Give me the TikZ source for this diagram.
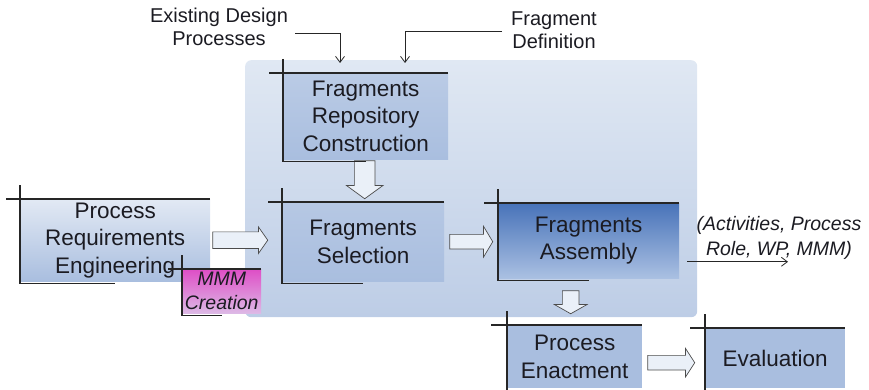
\documentclass[tikz,border=0pt]{standalone}
\usepackage{fontspec}
\setmainfont{Liberation Sans}
\usetikzlibrary{shapes.arrows, arrows.meta, positioning}

\definecolor{panelTop}{HTML}{E0E8F3}
\definecolor{panelBot}{HTML}{BDCDE6}
\definecolor{boxBlue}{HTML}{A9BEDF}
\definecolor{boxLight}{HTML}{E2E9F4}
\definecolor{asmTop}{HTML}{4873B9}
\definecolor{asmBot}{HTML}{AAC0E2}
\definecolor{mmmTop}{HTML}{DE4EC6}
\definecolor{mmmBot}{HTML}{DDB9E6}
\definecolor{arrowFill}{HTML}{EAF0F8}
\definecolor{ink}{HTML}{1B1B22}

\tikzset{
  phase/.style={anchor=north west, inner sep=0pt, align=center, text=ink,
    font=\fontsize{22.5}{27.5}\selectfont, fill=boxBlue},
  frame/.style={line width=1.2pt, black!85},
  fatarrow/.style={single arrow, draw=black!70, line width=0.7pt, fill=arrowFill,
    inner sep=0pt, single arrow head indent=0pt, anchor=tail},
  flow/.style={line width=0.8pt, black!85, -{Straight Barb[length=6pt,width=9pt]}},
  note/.style={align=center, inner sep=2pt, text=ink, font=\fontsize{20}{22.5}\selectfont}
}

\begin{document}
\begin{tikzpicture}[x=1pt, y=-1pt]
	\useasboundingbox (0,0) rectangle (869,390);

	% background panel
	\node[anchor=north west, minimum width=452pt, minimum height=257pt, inner sep=0pt,
	  rounded corners=6pt, top color=panelTop, bottom color=panelBot] (panel) at (245,60) {};

	\node[phase, minimum width=190pt, minimum height=82pt, top color=boxLight, bottom color=boxBlue] (pre) at (20,199) {Process\\Requirements\\Engineering};
	\node[phase, minimum width=165pt, minimum height=86pt, top color=boxBlue!80!white, bottom color=boxBlue] (rep) at (283,73) {Fragments\\Repository\\Construction};
	\node[phase, minimum width=162pt, minimum height=79pt, top color=boxBlue!85!white, bottom color=boxBlue] (sel) at (282,202) {Fragments\\Selection};
	\node[phase, minimum width=181pt, minimum height=75pt, top color=asmTop, bottom color=asmBot] (asm) at (498,203) {Fragments\\Assembly};
	\node[phase, minimum width=79pt, minimum height=44pt, top color=mmmTop, bottom color=mmmBot, font=\fontsize{19.5}{24}\selectfont\itshape] (mmm) at (182,269) {MMM\\Creation};
	\node[phase, minimum width=135pt, minimum height=63pt] (enc) at (507,325) {Process\\Enactment};
	\node[phase, minimum width=140pt, minimum height=60pt] (eva) at (705,328) {Evaluation};

	\node[note] (edp) at (219,27) {Existing Design\\Processes};
	\node[note] (fd) at (554,30) {Fragment\\Definition};
	\node[note, font=\fontsize{19.5}{25}\selectfont\itshape] (out) at (779,238) {(Activities, Process\\Role, WP, MMM)};

	% block arrows
	\node[fatarrow, minimum height=55pt, inner ysep=8pt, single arrow head extend=5pt, single arrow tip angle=110] (a1) at ([xshift=2pt]pre.east) {};
	\node[fatarrow, minimum height=43pt, inner ysep=7pt, single arrow head extend=8pt, single arrow tip angle=118] (a2) at ([xshift=5pt]sel.east) {};
	\node[fatarrow, minimum height=38pt, inner xsep=10pt, single arrow head extend=8pt, single arrow tip angle=108, shape border rotate=270] (a3) at ([xshift=-1pt,yshift=-1pt]rep.south) {};
	\node[fatarrow, minimum height=23pt, inner xsep=8pt, single arrow head extend=8pt, single arrow tip angle=121, shape border rotate=270] (a4) at ([xshift=-18pt,yshift=-12pt]asm.south) {};
	\node[fatarrow, minimum height=47pt, inner ysep=7pt, single arrow head extend=7pt, single arrow tip angle=114] (a5) at ([xshift=5pt,yshift=-6pt]enc.east) {};

	% frames
	\draw[frame] ([xshift=-14pt]pre.north west) -- (pre.north east) ([yshift=14pt]pre.north west) -- ([yshift=-2pt]pre.south west) -- ([yshift=-2pt]pre.south);
	\draw[frame] ([xshift=-14pt]rep.north west) -- (rep.north east) ([yshift=14pt]rep.north west) -- ([yshift=-2pt]rep.south west) -- ([yshift=-2pt]rep.south);
	\draw[frame] ([xshift=-14pt]sel.north west) -- (sel.north east) ([yshift=14pt]sel.north west) -- ([yshift=-2pt]sel.south west) -- ([yshift=-2pt]sel.south);
	\draw[frame] ([xshift=-14pt]asm.north west) -- (asm.north east) ([yshift=14pt]asm.north west) -- ([yshift=-2pt]asm.south west) -- ([yshift=-2pt]asm.south);
	\draw[frame] ([xshift=-14pt]mmm.north west) -- (mmm.north east) ([yshift=14pt]mmm.north west) -- ([yshift=-2pt]mmm.south west) -- ([yshift=-2pt]mmm.south);
	\draw[frame] ([xshift=-16pt]enc.north west) -- (enc.north east) ([yshift=14pt]enc.north west) -- ([yshift=-2pt]enc.south west) -- ([yshift=-2pt]enc.south);
	\draw[frame] ([xshift=-15pt]eva.north west) -- (eva.north east) ([yshift=14pt]eva.north west) -- ([yshift=-2pt]eva.south west) -- ([yshift=-2pt]eva.south);

	% inputs and output
	\draw[flow] ([xshift=5pt,yshift=-6pt]edp.east) -| ([xshift=57pt,yshift=10pt]rep.north west);
	\draw[flow] ([xshift=-7pt,yshift=-1pt]fd.west) -| ([xshift=122pt,yshift=10pt]rep.north west);
	\draw[flow] ([xshift=8pt]asm.east |- out.south) -- ([xshift=9pt]out.south);

\end{tikzpicture}
\end{document}
